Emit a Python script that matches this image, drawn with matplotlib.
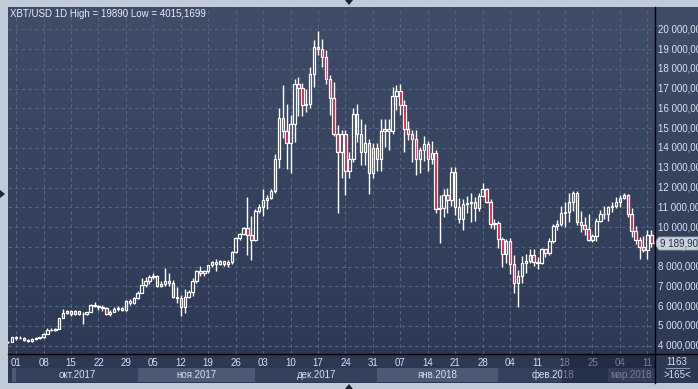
import numpy as np
import pandas as pd
import matplotlib
matplotlib.use("Agg")
import matplotlib.pyplot as plt
from matplotlib.patches import Rectangle, Polygon
from matplotlib.colors import LinearSegmentedColormap
from matplotlib.transforms import blended_transform_factory

plt.rcParams['font.family'] = ['Liberation Sans', 'DejaVu Sans']

# daily XBT/USD candles, 2017-09-29 .. 2018-03-12
start = "2017-09-29"
opens = [
    4190, 4200,
    4420, 4400, 4410, 4310, 4230, 4330, 4370, 4430, 4610, 4780, 4770, 4830, 5400, 5650, 5760, 5590,
    5740, 5620, 5580, 5700, 6040, 6010, 5980, 5900, 5620, 5720, 5860, 5900, 5780, 6250, 6170,
    6420, 6670, 7085, 7250, 7470, 7530, 7000, 7140, 7285, 7180, 6445, 6400, 5940, 6475, 6700,
    7285, 7790, 7700, 7790, 8075, 8250, 8120, 8280, 8110, 8230, 8720, 9425, 9640, 9930, 9590,
    9340, 10800, 11020, 11360, 11445, 11815, 13465, 15535, 14845, 14270, 15230, 17250, 17050, 16190, 16240,
    17760, 19100, 18985, 18600, 17500, 16545, 14730, 13770, 14730, 12840, 13465, 15740, 14730, 13770, 14270, 12710,
    14000, 13430, 14840, 14980, 14840, 16610, 16860, 16190, 14945, 14730, 14440, 13465, 13880, 14190, 13465,
    13720, 10890, 10950, 11610, 11360, 12790, 10990, 10385, 11155, 11200, 11275, 10940, 11560, 11900, 11275, 10150,
    10200, 9375, 8630, 9300, 8130, 7180, 7520, 8160, 8290, 8580, 8240, 8190, 8870, 8700,
    9300, 10035, 10135, 10700, 10750, 11250, 11700, 10250, 10085, 9920, 9370, 9535, 10300, 10670,
    10650, 11035, 11085, 11250, 11450, 11620, 10635, 9800, 9370, 8970, 8835, 9585,
]
highs = [
    4240, 4440,
    4470, 4480, 4440, 4350, 4370, 4420, 4460, 4620, 4880, 4920, 4900, 5420, 5860, 5800, 5800, 5780,
    5770, 5680, 5720, 6100, 6200, 6060, 6040, 5950, 5800, 5950, 6000, 5960, 6300, 6350, 6480,
    6750, 7400, 7450, 7550, 7700, 7560, 7250, 7910, 7670, 7320, 6950, 6560, 6850, 6820, 7400,
    7830, 8030, 7850, 8100, 8300, 8370, 8340, 8300, 8350, 8780, 9520, 9720, 10000, 11530, 10550,
    10900, 11150, 11900, 11600, 11900, 13700, 16000, 17170, 16240, 15690, 17500, 17590, 17300, 17000, 18090,
    19440, 19890, 19520, 18930, 17670, 17330, 15150, 14930, 14930, 13800, 16020, 16240, 15480, 15190, 14475, 14250,
    14250, 15450, 15450, 15450, 17080, 17200, 17250, 16410, 15350, 14890, 14930, 14050, 14590, 14350, 14350,
    13920, 11600, 11900, 11950, 13040, 13040, 11445, 11395, 11550, 11730, 11500, 11700, 12230, 11950, 11400, 10400,
    10330, 9500, 9400, 9425, 8580, 7830, 8520, 8650, 8900, 8900, 8500, 8950, 8900, 9450,
    10150, 10350, 11050, 11250, 11700, 11835, 11800, 10835, 10500, 10650, 9650, 10450, 10850, 11050,
    11050, 11250, 11500, 11620, 11700, 11650, 10970, 10050, 9500, 9550, 9830, 9830,
]
lows = [
    4150, 4180,
    4300, 4360, 4250, 4180, 4200, 4310, 4320, 4400, 4570, 4720, 4750, 4820, 5380, 5580, 5500, 5560,
    5570, 5100, 5540, 5680, 5950, 5800, 5760, 5550, 5480, 5680, 5760, 5760, 5740, 6080, 6120,
    6350, 6640, 6950, 7100, 7350, 6950, 6960, 7000, 7000, 6400, 6180, 5500, 5635, 6400, 6530,
    7180, 7540, 7500, 7670, 8000, 7790, 8100, 8050, 7980, 8150, 8700, 9350, 9620, 8580, 8330,
    9300, 10700, 10550, 10900, 11400, 11700, 13010, 14500, 12960, 12710, 14300, 15620, 15620, 15820, 16000,
    17080, 18680, 18090, 17250, 15690, 14600, 10690, 12490, 11600, 12490, 13290, 14300, 13130, 13130, 11650, 12500,
    12840, 12840, 14050, 13900, 14700, 15900, 15650, 13770, 14390, 13290, 12620, 12740, 13340, 12840, 13210,
    10720, 9200, 10515, 10700, 11055, 10600, 10180, 9850, 10700, 10265, 10300, 10800, 11500, 11200, 9950, 9900,
    8920, 7960, 8200, 7620, 6650, 5970, 7190, 7700, 8200, 8050, 7900, 8150, 8500, 8600,
    9200, 9850, 10035, 10000, 10250, 10835, 10085, 9750, 9600, 9300, 9250, 9300, 10250, 10400,
    10330, 10750, 10950, 11000, 11400, 10520, 9500, 9150, 8400, 8750, 8400, 9000,
]
closes = [
    4200, 4420,
    4400, 4410, 4310, 4230, 4330, 4370, 4430, 4610, 4780, 4770, 4830, 5400, 5650, 5760, 5590, 5740,
    5620, 5580, 5700, 6040, 6010, 5980, 5900, 5620, 5720, 5860, 5900, 5780, 6250, 6170, 6420,
    6670, 7085, 7250, 7470, 7530, 7000, 7140, 7285, 7180, 6445, 6400, 5940, 6475, 6700, 7285,
    7790, 7700, 7790, 8075, 8250, 8120, 8280, 8110, 8230, 8720, 9425, 9640, 9930, 9590, 9340,
    10800, 11020, 11360, 11445, 11815, 13465, 15535, 14845, 14270, 15230, 17250, 17050, 16190, 16240, 17760,
    19100, 18985, 18600, 17500, 16545, 14730, 13770, 14730, 12840, 13465, 15740, 14730, 13770, 14270, 12710, 14000,
    13430, 14840, 14980, 14840, 16610, 16860, 16190, 14945, 14730, 14440, 13465, 13880, 14190, 13465, 13720,
    10890, 10950, 11610, 11360, 12790, 10990, 10385, 11155, 11200, 11275, 10940, 11560, 11900, 11275, 10150, 10200,
    9375, 8630, 9300, 8130, 7180, 7520, 8160, 8290, 8580, 8240, 8190, 8870, 8700, 9300,
    10035, 10135, 10700, 10750, 11250, 11700, 10250, 10085, 9920, 9370, 9535, 10300, 10670, 10650,
    11035, 11085, 11250, 11450, 11620, 10635, 9800, 9370, 8970, 8835, 9585, 9189.9,
]
last_price = "9 189,90"
price_levels = list(range(4000, 20001, 1000))
month_names = ["сен.2017", "окт.2017", "ноя.2017", "дек.2017", "янв.2018", "фев.2018", "мар.2018"]
month_starts = ["2017-09-01", "2017-10-01", "2017-11-01", "2017-12-01", "2018-01-01", "2018-02-01", "2018-03-01"]

n = len(closes)
assert len(opens) == n and len(highs) == n and len(lows) == n == 165

o = np.array(opens, float); h = np.array(highs, float)
l = np.array(lows, float); c = np.array(closes, float)
origin = pd.Timestamp("2017-10-01")
dates = pd.date_range(start, periods=n, freq="D")
x = np.asarray((dates - origin).days, float)

W, H = 698, 389
fig = plt.figure(figsize=(W / 100, H / 100), dpi=100, facecolor="#c0cad8")

def fbox(x0, y0, x1, y1):
    return [x0 / W, 1 - y1 / H, (x1 - x0) / W, (y1 - y0) / H]

def P(px, py):
    return (px / W, 1 - py / H)

# background panel gradient
bg = fig.add_axes(fbox(8, 7, 698, 383))
bg.axis("off")
cmap = LinearSegmentedColormap.from_list("bg", ["#3f4d69", "#2c3853"])
bg.imshow(np.linspace(0, 1, 256).reshape(-1, 1), aspect="auto", cmap=cmap,
          extent=[0, 1, 0, 1], origin="upper")

XL = (-2.07, 162.94)
YL = (3580, 21128)
grid_col = "#56657f"

ax = fig.add_axes(fbox(8, 7, 655, 354))
ax.set_facecolor("none")
ax.set_xlim(*XL); ax.set_ylim(*YL)
ax.axis("off")
for v in price_levels:
    ax.axhline(v, color=grid_col, lw=0.8, ls=(0, (3, 3)), zorder=1)
sundays = pd.date_range("2017-10-01", "2018-03-12", freq="7D")
sx = np.asarray((sundays - origin).days, float)
for xv in sx:
    ax.axvline(xv, color=grid_col, lw=0.8, ls=(0, (3, 3)), zorder=1)

top = np.maximum(o, c); bot = np.minimum(o, c)
ax.vlines(x, bot, l, color="white", lw=1.0, zorder=2)
ax.vlines(x, top, h, color="white", lw=1.0, zorder=2)
up = c >= o
bw = 0.62
ax.bar(x[up], (top - bot)[up], bottom=bot[up], width=bw, facecolor="none",
       edgecolor="white", linewidth=0.9, zorder=3)
ax.bar(x[~up], (top - bot)[~up], bottom=bot[~up], width=bw, facecolor="#e3163d",
       edgecolor="white", linewidth=0.9, zorder=3)

fig.text(10 / W, 1 - 14 / H, "XBT/USD 1D High = 19890 Low = 4015,1699",
         color="#e6edf7", fontsize=7, va="center", ha="left")

# price axis
pax = fig.add_axes(fbox(655, 7, 698, 354))
pax.set_facecolor("none")
pax.set_ylim(*YL); pax.set_xlim(0, 1)
pax.axis("off")
tr = blended_transform_factory(pax.transAxes, pax.transData)
for v in price_levels:
    pax.text(0.07, v, f"{v // 1000} 000,0000", transform=tr, color="#d8e3f3",
             fontsize=7, va="center", ha="left", clip_on=False)

# date axis
dax = fig.add_axes(fbox(8, 354, 655, 383))
dax.set_facecolor("none")
dax.set_xlim(*XL); dax.set_ylim(29, 0)
dax.axis("off")
for xv, d in zip(sx, sundays):
    dax.text(xv, 9, d.strftime("%d"), color="#d4deee", fontsize=7, ha="center", va="center")
ms = np.asarray((pd.to_datetime(month_starts) - origin).days, float)
ms_end = np.append(ms[1:], XL[1])
for i, (a, b, name) in enumerate(zip(ms, ms_end, month_names)):
    a = max(a, -1.0)
    col = "#4b5975" if i % 2 == 0 else "#34415c"
    dax.add_patch(Rectangle((a, 14), b - a, 13.5, facecolor=col, edgecolor="none", zorder=1))
    if i > 0:
        dax.text((a + min(b, XL[1])) / 2, 21, name, color="#d4deee", fontsize=7,
                 ha="center", va="center", zorder=2)
dax.add_patch(Rectangle((139.2, 0), XL[1] - 139.2, 29, facecolor="#18203a",
                        alpha=0.5, edgecolor="none", zorder=5))

# separators
fig.add_artist(plt.Line2D([655 / W, 655 / W], [1 - 7 / H, 1 - 383 / H], color="black", lw=1.0))
fig.add_artist(plt.Line2D([8 / W, 698 / W], [1 - 354 / H, 1 - 354 / H], color="black", lw=1.0))

# bottom-right counters
fig.text(*P(677, 362), "1163", color="#d4deee", fontsize=7, ha="center", va="center")
fig.add_artist(plt.Line2D([666 / W, 689 / W], [1 - 368 / H, 1 - 368 / H], color="#8a98b0", lw=0.8))
fig.text(*P(677, 375), ">165<", color="#d4deee", fontsize=7, ha="center", va="center")

# last price tag
tag = Polygon([P(654, 243), P(659, 237), P(698, 237), P(698, 250), P(659, 250)],
              closed=True, transform=fig.transFigure, facecolor="#c9d1dc", edgecolor="#9aa6b8", lw=0.6)
fig.add_artist(tag)
fig.text(*P(660, 243.5), last_price, color="#22304c", fontsize=7, ha="left", va="center")

# scroll markers
for pts in ([P(345, 0), P(353, 0), P(349, 5)],
            [P(345, 389), P(353, 389), P(349, 384)],
            [P(0, 190), P(0, 198), P(5, 194)]):
    fig.add_artist(Polygon(pts, closed=True, transform=fig.transFigure,
                           facecolor="#1c2232", edgecolor="none"))

fig.savefig("out.png", dpi=100, facecolor=fig.get_facecolor())
